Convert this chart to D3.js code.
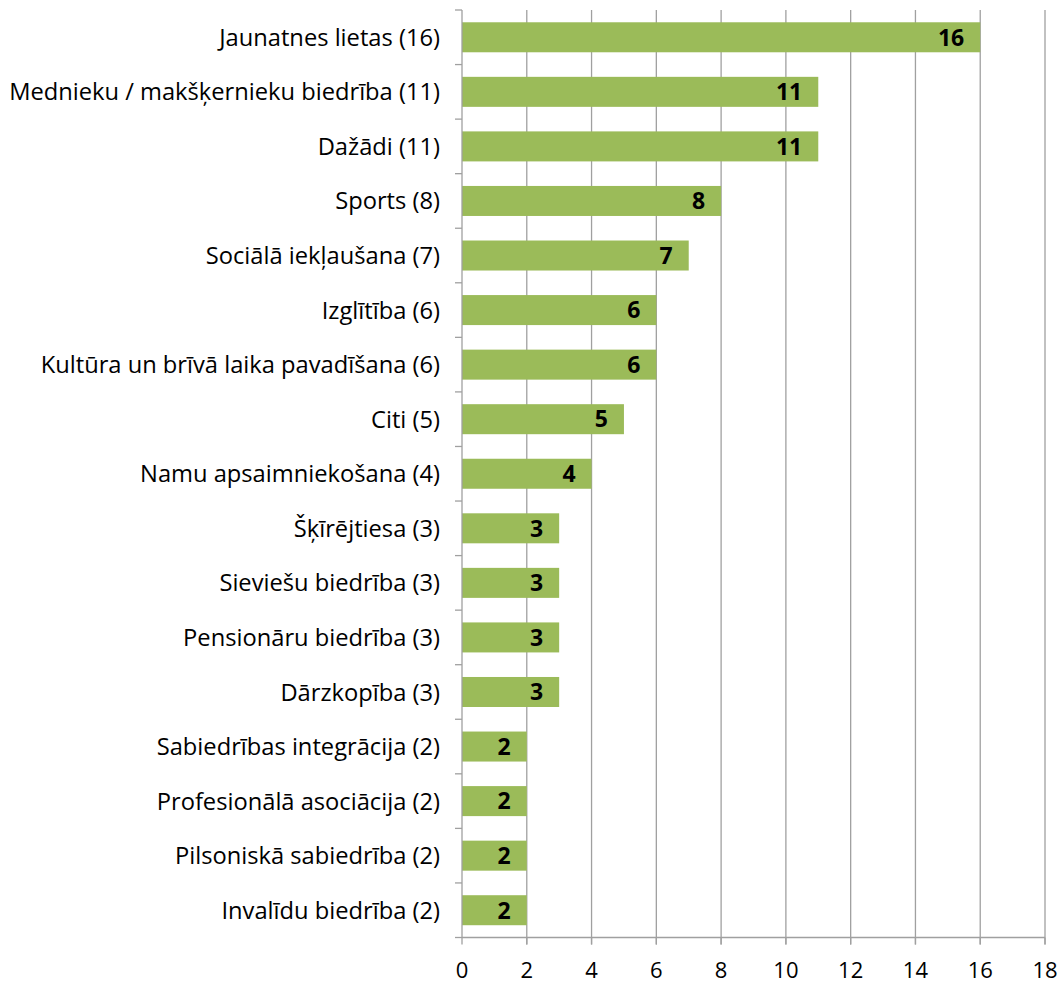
<!DOCTYPE html>
<html><head><meta charset="utf-8">
<script src="https://cdn.jsdelivr.net/npm/d3@7"></script>
<style>html,body{margin:0;padding:0;background:#fff;overflow:hidden;} svg{display:block;} text{font-family:"Open Sans","DejaVu Sans",sans-serif;}</style>
</head><body>
<svg id="c" width="1064" height="983"></svg>
<script>
const categories = ["Jaunatnes lietas (16)","Mednieku / makšķernieku biedrība (11)","Dažādi (11)","Sports (8)","Sociālā iekļaušana (7)","Izglītība (6)","Kultūra un brīvā laika pavadīšana (6)","Citi (5)","Namu apsaimniekošana (4)","Šķīrējtiesa (3)","Sieviešu biedrība (3)","Pensionāru biedrība (3)","Dārzkopība (3)","Sabiedrības integrācija (2)","Profesionālā asociācija (2)","Pilsoniskā sabiedrība (2)","Invalīdu biedrība (2)"];
const values = [16,11,11,8,7,6,6,5,4,3,3,3,3,2,2,2,2];
const xTicks = [0,2,4,6,8,10,12,14,16,18];

const svg = d3.select("#c");
const L=462, R=1045, T=10, B=937.5;
const x = d3.scaleLinear().domain([0,18]).range([L,R]);
const y = d3.scaleBand().domain(categories).range([T,B]).paddingInner(0.45).paddingOuter(0.225);
const grey="#a0a0a0";

// gridlines
svg.append("g").selectAll("line").data(xTicks.slice(1)).join("line")
  .attr("x1",d=>x(d)).attr("x2",d=>x(d)).attr("y1",T).attr("y2",B+7)
  .attr("stroke",grey).attr("stroke-width",1.3);

// bars
svg.append("g").selectAll("rect").data(values).join("rect")
  .attr("x",x(0)).attr("y",(d,i)=>y(categories[i]))
  .attr("width",d=>x(d)-x(0)).attr("height",y.bandwidth())
  .attr("fill","#9BBB59");

// value labels
svg.append("g").selectAll("text").data(values).join("text")
  .attr("x",d=>x(d)-16).attr("y",(d,i)=>y(categories[i])+y.bandwidth()/2)
  .attr("dy","0.36em").attr("text-anchor","end")
  .attr("font-size",23).attr("font-weight","bold").attr("fill","#000")
  .text(d=>d);

// y axis
svg.append("line").attr("x1",L).attr("x2",L).attr("y1",T).attr("y2",B).attr("stroke",grey).attr("stroke-width",1.3);
const bounds = d3.range(categories.length+1).map(i=>T+i*(B-T)/categories.length);
svg.append("g").selectAll("line").data(bounds).join("line")
  .attr("x1",L-7).attr("x2",L).attr("y1",d=>d).attr("y2",d=>d).attr("stroke",grey).attr("stroke-width",1.3);
svg.append("g").selectAll("text").data(categories).join("text")
  .attr("x",L-22).attr("y",d=>y(d)+y.bandwidth()/2).attr("dy","0.36em")
  .attr("text-anchor","end").attr("font-size",23.7).attr("fill","#000").text(d=>d);

// x axis
svg.append("line").attr("x1",L).attr("x2",R).attr("y1",B).attr("y2",B).attr("stroke",grey).attr("stroke-width",1.3);
svg.append("g").selectAll("line").data(xTicks).join("line")
  .attr("x1",d=>x(d)).attr("x2",d=>x(d)).attr("y1",B).attr("y2",B+7).attr("stroke",grey).attr("stroke-width",1.3);
svg.append("g").selectAll("text").data(xTicks).join("text")
  .attr("x",d=>x(d)).attr("y",970).attr("dy","0.36em").attr("text-anchor","middle")
  .attr("font-size",22).attr("fill","#000").text(d=>d);
</script>
</body></html>
